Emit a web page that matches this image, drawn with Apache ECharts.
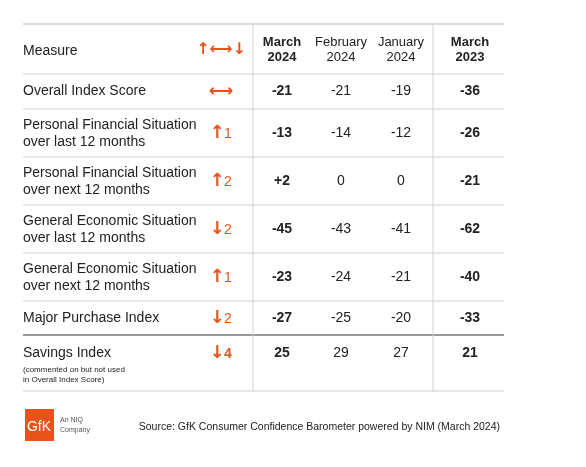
<!DOCTYPE html><html><head><meta charset="utf-8">
<script src="https://cdn.jsdelivr.net/npm/echarts@6/dist/echarts.min.js"></script>
<style>html,body{margin:0;background:#fff}#c{width:586px;height:467px}</style></head><body><div id="c"></div>
<script>
const columns = [["March","2024"],["February","2024"],["January","2024"],["March","2023"]];
const measures = [["Overall Index Score"],["Personal Financial Situation","over last 12 months"],["Personal Financial Situation","over next 12 months"],["General Economic Situation","over last 12 months"],["General Economic Situation","over next 12 months"],["Major Purchase Index"],["Savings Index"]];
const changeDir = ["flat","up","up","down","up","down","down"];
const changeVal = ["","1","2","2","1","2","4"];
const mar2024 = ["-21","-13","+2","-45","-23","-27","25"];
const feb2024 = ["-21","-14","0","-43","-24","-25","29"];
const jan2024 = ["-19","-12","0","-41","-21","-20","27"];
const mar2023 = ["-36","-26","-21","-62","-40","-33","21"];

const OR='#e8531c', TX='#222', F='Liberation Sans, Arial, sans-serif';
const rowLines=[74,109,157,205,253,301,335,391];
const colX=[282,341,401,470];
const g=[];
const line=(x1,y1,x2,y2,c,w)=>g.push({type:'line',shape:{x1,y1,x2,y2},style:{stroke:c,lineWidth:w}});
const txt=(x,y,t,o)=>g.push({type:'text',x,y,style:Object.assign({text:t,fill:TX,font:'14px '+F,textAlign:'left',textVerticalAlign:'middle'},o||{})});
line(23,24,504,24,'#d0d0d0',1.5);
rowLines.forEach((y,i)=>line(23,y,504,y,i==6?'#777':'#d0d0d0',i==6?1.5:1.2));
line(253,24,253,391,'#d0d0d0',1);line(433,24,433,391,'#d0d0d0',1);
txt(23,51,'Measure');
txt(221,50,'↑⟷↓',{fill:OR,font:'bold 16px DejaVu Sans',textAlign:'center'});
columns.forEach((c,j)=>{const b=(j==0||j==3);txt(colX[j],42,c[0],{textAlign:'center',font:(b?'bold ':'')+'13px '+F});txt(colX[j],57,c[1],{textAlign:'center',font:(b?'bold ':'')+'13px '+F});});
const vals=[mar2024,feb2024,jan2024,mar2023];
measures.forEach((m,i)=>{
  const top=rowLines[i],bot=rowLines[i+1];
  let cy=(top+bot)/2; if(i==6) cy=top+18;
  if(m.length==1) txt(23,cy,m[0]); else {txt(23,cy-8,m[0]);txt(23,cy+9,m[1]);}
  if(i==6){txt(23,cy+17,'(commented on but not used',{font:'8px '+F});txt(23,cy+27,'in Overall Index Score)',{font:'8px '+F});}
  const a=changeDir[i]=='up'?'↑':'↓';
  if(changeDir[i]=='flat') txt(221,cy,'⟷',{fill:OR,font:'bold 17px DejaVu Sans',textAlign:'center'});
  else {txt(217,cy,a,{fill:OR,font:'bold 18px DejaVu Sans',textAlign:'center'});txt(224,cy+1,changeVal[i],{fill:OR,font:(i==6?'bold ':'')+'14px '+F});}
  vals.forEach((v,j)=>txt(colX[j],cy,v[i],{textAlign:'center',font:((j==0||j==3)?'bold ':'')+'14px '+F}));
});
g.push({type:'rect',shape:{x:25,y:409,width:29,height:32},style:{fill:OR}});
txt(39,427,'GfK',{fill:'#fff',font:'14px '+F,textAlign:'center'});
txt(60,420,'An NIQ',{fill:'#555',font:'7px '+F});txt(60,430,'Company',{fill:'#555',font:'7px '+F});
txt(500,427,'Source: GfK Consumer Confidence Barometer powered by NIM (March 2024)',{textAlign:'right',font:'10.5px '+F});
const ch=echarts.init(document.getElementById('c'));
ch.setOption({animation:false,graphic:g});
</script></body></html>
